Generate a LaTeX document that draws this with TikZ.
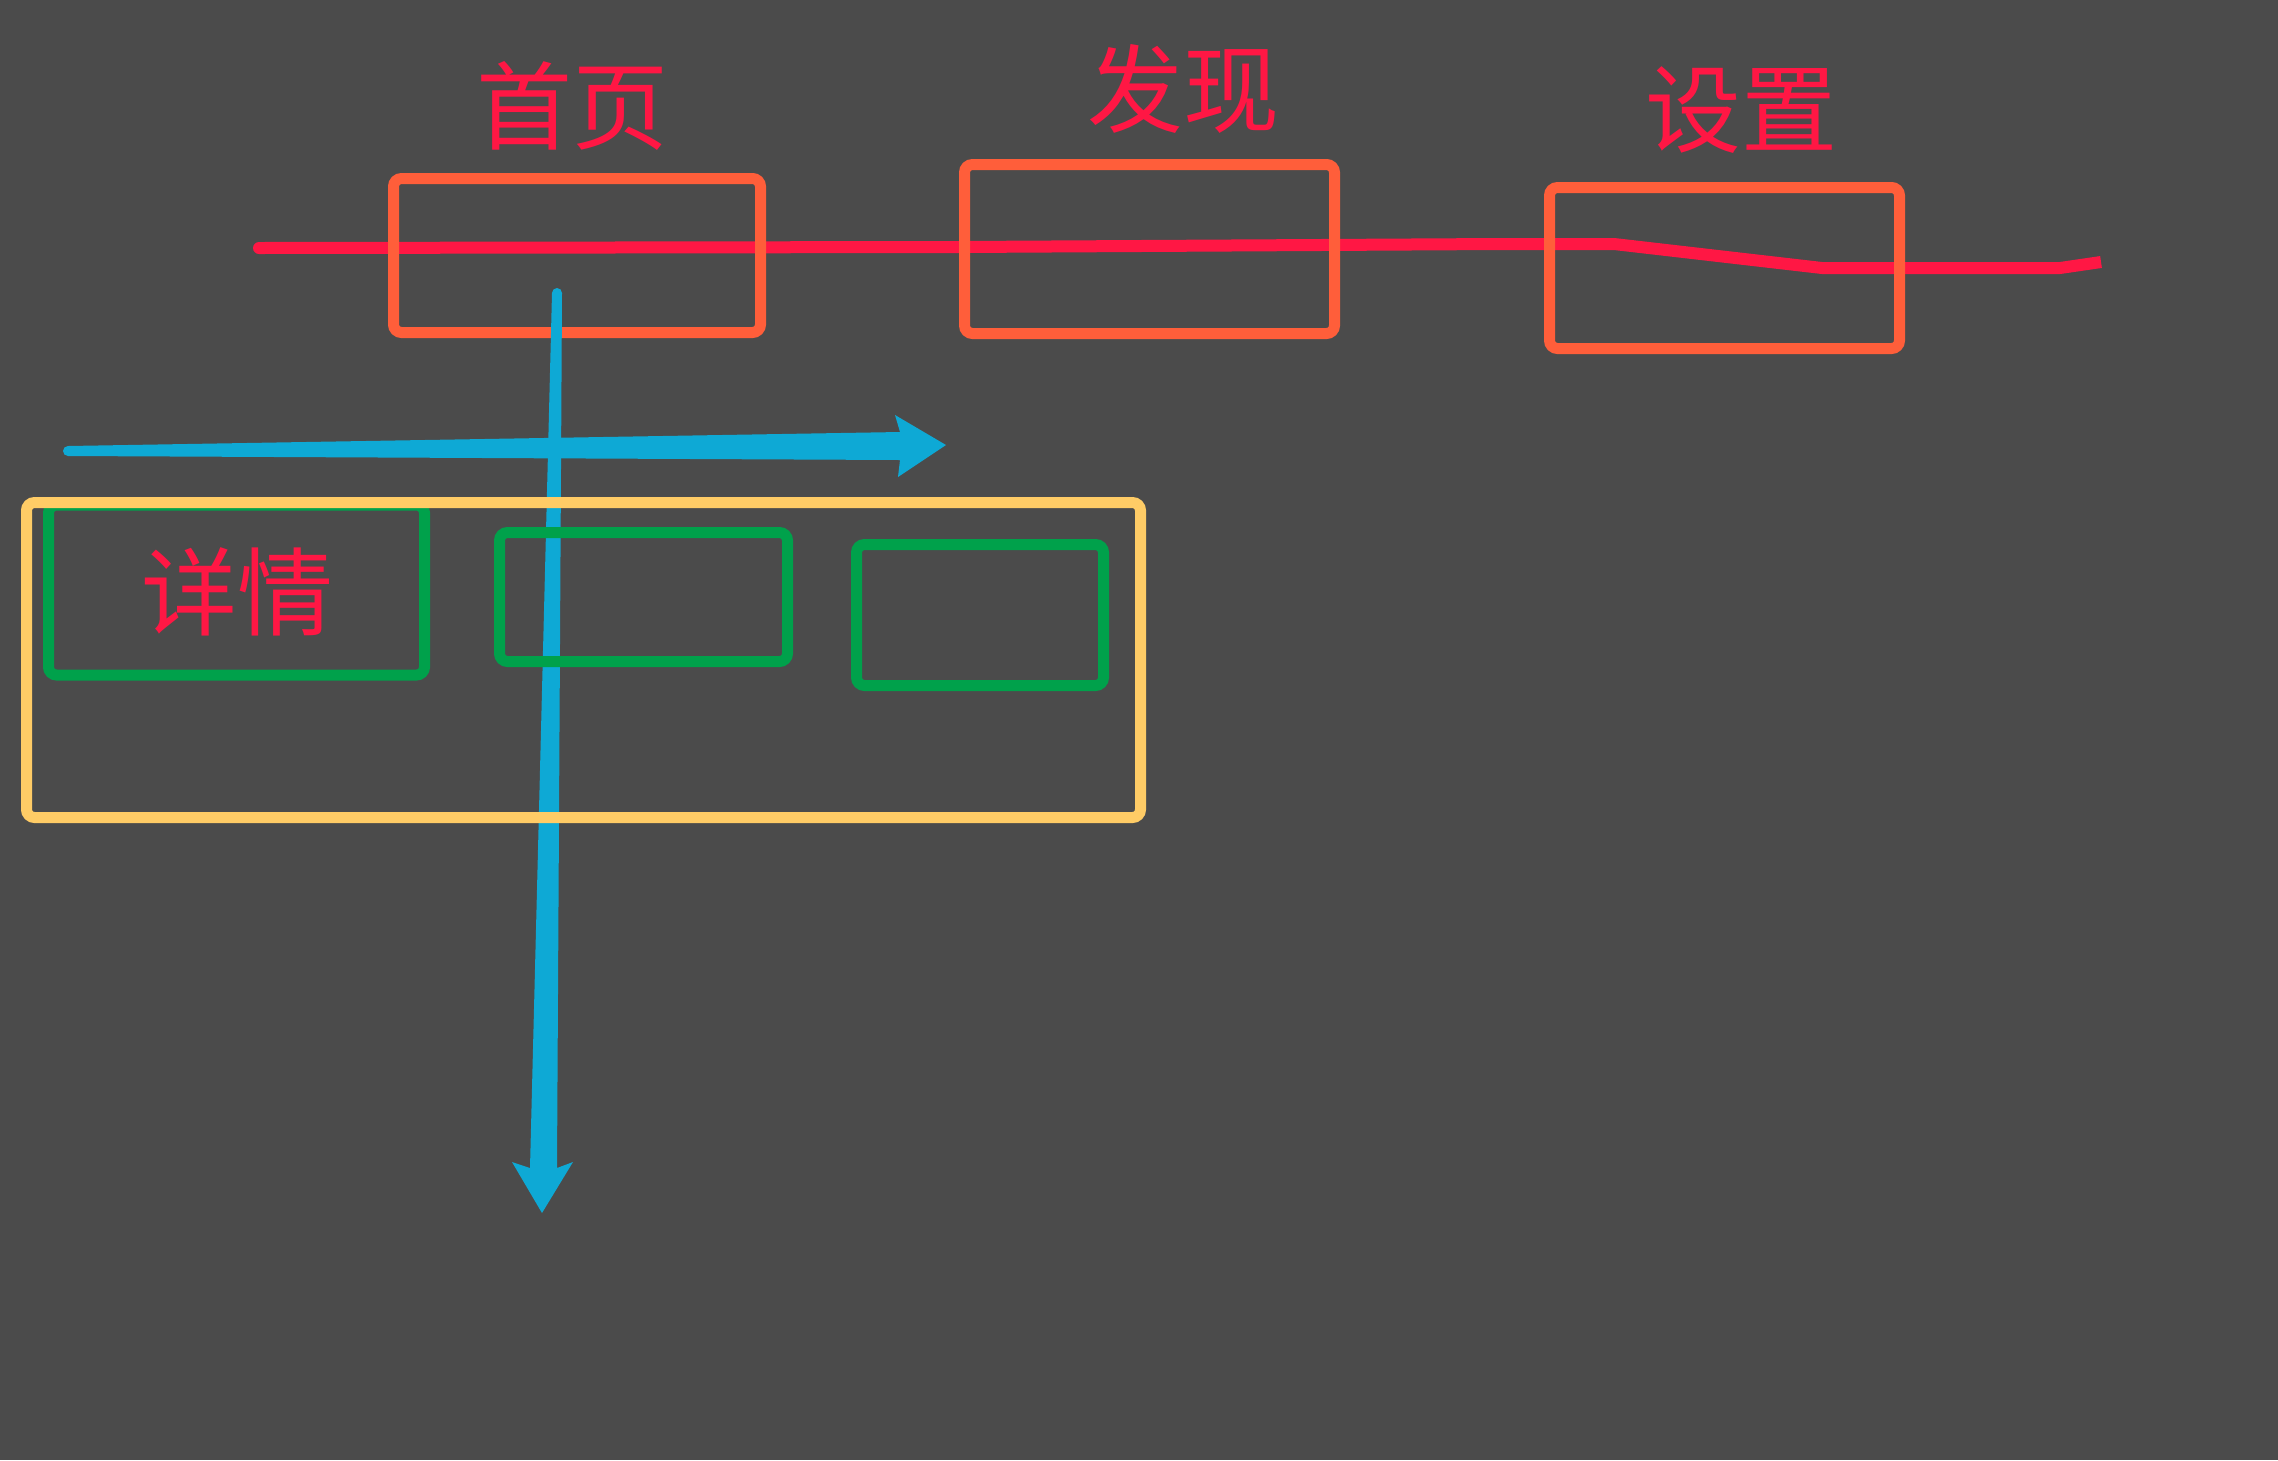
\documentclass[tikz,border=0pt]{standalone}
\usepackage{fontspec}
\newfontfamily\cjk{Noto Sans CJK SC}
\definecolor{bgc}{HTML}{4B4B4B}
\definecolor{tabred}{HTML}{FF1744}
\definecolor{taborange}{HTML}{FF5E3A}
\definecolor{flowblue}{HTML}{0EA9D5}
\definecolor{panelyellow}{HTML}{FFCC66}
\definecolor{cardgreen}{HTML}{00A14B}
\begin{document}
\begin{tikzpicture}[x=1pt,y=-1pt,
  tabbox/.style={draw=taborange,line width=11pt,rounded corners=8pt,inner sep=0pt},
  panelbox/.style={draw=panelyellow,line width=11pt,rounded corners=8pt,inner sep=0pt},
  cardbox/.style={draw=cardgreen,line width=11pt,rounded corners=8pt,inner sep=0pt},
  label/.style={text=tabred,font=\cjk\fontsize{96}{100}\selectfont,inner sep=0pt,anchor=base}]
% canvas
\fill[bgc] (0,0) rectangle (2278,1460);
\useasboundingbox (0,0) rectangle (2278,1460);

% tab bar line
\coordinate (ls) at (259,248);
\coordinate (le) at (2101,262);
\draw[tabred,line width=12pt,line join=round] (ls) -- (960,247) -- (1500,244) -- (1614,244)
  -- (1822,268) -- (2060,268) -- (le);
\fill[tabred] (ls) circle (6pt);

% tabs
\node[tabbox,minimum width=367pt,minimum height=154pt] (home) at (577,255.5) {};
\node[tabbox,minimum width=370pt,minimum height=169pt] (find) at (1149.5,249) {};
\node[tabbox,minimum width=350pt,minimum height=161pt] (setting) at (1724.5,268) {};

\node[label] (homet) at (572,142) {首页};
\node[label] (findt) at (1183,125) {发现};
\node[label] (settingt) at (1741,145) {设置};

% vertical scroll arrow, tapering towards its tail
\coordinate (vtop) at (557,293);
\coordinate (vtip) at (542,1213);
\fill[flowblue] (vtop) circle (5pt);
\fill[flowblue] (552,293) -- (562,293) -- (557,1168) -- (573,1162) -- (vtip)
  -- (512,1162) -- (530,1168) -- cycle;

% horizontal scroll arrow, tapering towards its tail
\coordinate (htail) at (68,451);
\coordinate (htip) at (946,445);
\fill[flowblue] (htail) circle (5pt);
\fill[flowblue] (68,446) -- (900,432) -- (895,415) -- (htip) -- (898,477) -- (900,460)
  -- (68,456) -- cycle;

% detail cards
\node[cardbox,minimum width=376pt,minimum height=170pt] (card1) at (236.5,590) {};
\node[cardbox,minimum width=288pt,minimum height=129pt] (card2) at (643.5,597) {};
\node[cardbox,minimum width=247pt,minimum height=141pt] (card3) at (980,615) {};

% detail panel
\node[panelbox,minimum width=1114pt,minimum height=315pt] (panel) at (583.5,660) {};

\node[label] (detailt) at (237,628) {详情};
\end{tikzpicture}
\end{document}
